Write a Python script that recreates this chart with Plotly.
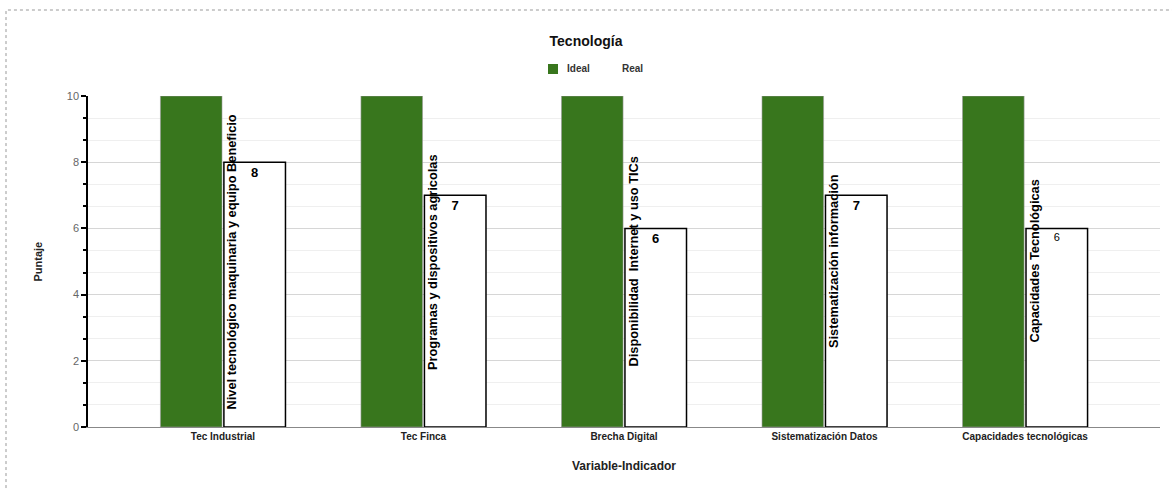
import plotly.graph_objects as go

categories = ["Tec Industrial", "Tec Finca", "Brecha Digital", "Sistematización Datos", "Capacidades tecnológicas"]
ideal = [10, 10, 10, 10, 10]
real = [8, 7, 6, 7, 6]
indicators = [
    "Nivel tecnológico maquinaria y equipo Beneficio",
    "Programas y dispositivos agricolas",
    "Disponibilidad  Internet y uso TICs",
    "Sistematización información",
    "Capacidades Tecnológicas",
]
label_bold = [True, True, True, True, False]
indicator_y = [5, 5, 5, 5, 5]
series_names = ["Ideal", "Real"]

FONT = "Arial, Liberation Sans, sans-serif"
GREEN = "#38761d"

# plot area in pixels (for paper-coordinate helpers)
L, R, T, B = 88, 1160, 96, 427
def px(x):
    return (x - L) / (R - L)
def py(y):
    return (B - y) / (B - T)

real_text = [f"<b>{v}</b>" if b else f"{v}" for v, b in zip(real, label_bold)]
real_size = [13 if b else 11 for b in label_bold]

fig = go.Figure()
fig.add_trace(go.Bar(
    x=categories, y=ideal, name=series_names[0], showlegend=False,
    marker=dict(color=GREEN, line=dict(color="#9a9a9a", width=0.6)),
    hoverinfo="skip",
))
fig.add_trace(go.Bar(
    x=categories, y=real, name=series_names[1], showlegend=False,
    marker=dict(color="white", line=dict(color="black", width=1.5)),
    text=real_text, textposition="inside", insidetextanchor="end", textangle=0,
    textfont=dict(family=FONT, size=real_size, color="black"),
    hoverinfo="skip",
))

for cat, lab, yv in zip(categories, indicators, indicator_y):
    fig.add_annotation(
        x=cat, y=yv, xref="x", yref="y", text=f"<b>{lab}</b>", textangle=-90,
        showarrow=False, xanchor="center", yanchor="middle", xshift=9,
        font=dict(family=FONT, size=12.8, color="black"),
    )

# manual legend
fig.add_shape(type="rect", xref="paper", yref="paper", x0=px(548), x1=px(558), y0=py(74), y1=py(64),
              line=dict(width=0), fillcolor=GREEN)
fig.add_annotation(x=px(565), y=py(69), xref="paper", yref="paper", text=f"<b>{series_names[0]}</b>",
                   showarrow=False, xanchor="left", yanchor="middle",
                   font=dict(family=FONT, size=10, color="#333"))
fig.add_annotation(x=px(620), y=py(69), xref="paper", yref="paper", text=f"<b>{series_names[1]}</b>",
                   showarrow=False, xanchor="left", yanchor="middle",
                   font=dict(family=FONT, size=10, color="#333"))

# axis titles
fig.add_annotation(x=0.5, y=py(466), xref="paper", yref="paper", text="<b>Variable-Indicador</b>",
                   showarrow=False, xanchor="center", yanchor="middle",
                   font=dict(family=FONT, size=12, color="#222"))
fig.add_annotation(x=px(37), y=0.5, xref="paper", yref="paper", text="<b>Puntaje</b>", textangle=-90,
                   showarrow=False, xanchor="center", yanchor="middle",
                   font=dict(family=FONT, size=11, color="#222"))

# dashed outer frame
fig.add_shape(type="rect", xref="paper", yref="paper", x0=px(6), x1=1.05, y0=-0.25, y1=py(10),
              line=dict(color="#999", width=1, dash="dot"), fillcolor="rgba(0,0,0,0)", layer="below")

fig.update_layout(
    width=1172, height=491,
    margin=dict(l=L, r=1172 - R, t=T, b=491 - B),
    paper_bgcolor="white", plot_bgcolor="white",
    barmode="group", bargap=0.367, bargroupgap=0.03,
    font=dict(family=FONT, color="#222"),
    showlegend=False,
    title=dict(text="<b>Tecnología</b>", x=0.5, xanchor="center", y=1 - 41 / 491, yanchor="middle",
               font=dict(family=FONT, size=14, color="#111")),
    xaxis=dict(
        range=[-0.673, 4.673], showline=True, linecolor="#888", linewidth=1,
        showgrid=False, ticks="", tickfont=dict(family=FONT, size=10, color="#222", weight="bold"),
    ),
    yaxis=dict(
        range=[0, 10], dtick=2, showline=True, linecolor="black", linewidth=1.5,
        ticks="outside", ticklen=5, tickcolor="black", tickwidth=1.5,
        gridcolor="#d6d6d6", gridwidth=1, zeroline=False,
        tickfont=dict(family=FONT, size=11, color="#666666"),
        minor=dict(dtick=2 / 3, tick0=0, showgrid=True, gridcolor="#efefef", ticks="outside",
                   ticklen=3, tickcolor="black"),
    ),
)

fig.write_html("out.html")
